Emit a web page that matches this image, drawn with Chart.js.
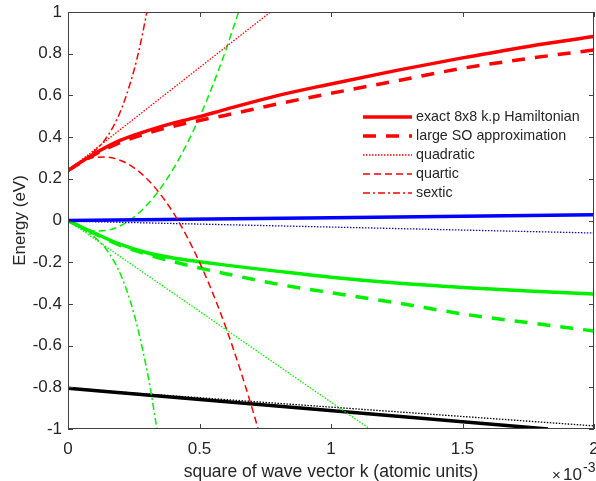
<!DOCTYPE html>
<html>
<head>
<meta charset="utf-8">
<title>Band energies vs k^2</title>
<script src="https://cdn.jsdelivr.net/npm/chart.js@4.4.1/dist/chart.umd.min.js"></script>
<style>
  html, body { margin: 0; padding: 0; background: #fff; }
</style>
</head>
<body>
<canvas id="bandChart" width="596" height="481"></canvas>
<script>
// k^2 in units of 1e-3 (atomic units)
const kGrid = [0, 0.1, 0.2, 0.3, 0.4, 0.5, 0.6, 0.8, 1.0, 1.25, 1.5, 1.75, 2.0];

// conduction band (red)
const cbExact   = [0.24, 0.32, 0.385, 0.43, 0.467, 0.498, 0.533, 0.60, 0.655, 0.72, 0.78, 0.835, 0.882];
const cbLargeSO = [0.24, 0.315, 0.375, 0.418, 0.452, 0.48, 0.505, 0.56, 0.61, 0.67, 0.73, 0.777, 0.818];
const cbQuadK   = [0, 0.77];
const cbQuad    = [0.24, 1.0];
const cbQuartK  = [0, 0.05, 0.1, 0.15, 0.2, 0.25, 0.3, 0.35, 0.4, 0.45, 0.5, 0.55, 0.6, 0.65, 0.7, 0.73];
const cbQuart   = [0.24, 0.28, 0.302, 0.304, 0.288, 0.254, 0.2, 0.128, 0.038, -0.072, -0.2, -0.347, -0.512, -0.697, -0.9, -1.03];
const cbSextK   = [0, 0.05, 0.1, 0.15, 0.2, 0.25, 0.275, 0.3];
const cbSext    = [0.24, 0.284, 0.332, 0.404, 0.525, 0.716, 0.845, 1.0];

// light hole (green)
const lhExact   = [0, -0.06, -0.115, -0.155, -0.18, -0.198, -0.214, -0.244, -0.272, -0.30, -0.321, -0.338, -0.353];
const lhLargeSO = [0, -0.062, -0.12, -0.162, -0.197, -0.228, -0.255, -0.306, -0.346, -0.395, -0.448, -0.49, -0.53];
const lhQuadK   = [0, 1.148];
const lhQuad    = [0, -1.0];
const lhQuartK  = [0, 0.05, 0.1, 0.15, 0.2, 0.25, 0.3, 0.35, 0.4, 0.45, 0.5, 0.55, 0.6, 0.65];
const lhQuart   = [0, -0.034, -0.05, -0.047, -0.025, 0.015, 0.074, 0.151, 0.247, 0.362, 0.495, 0.647, 0.817, 1.006];
const lhSextK   = [0, 0.05, 0.1, 0.15, 0.2, 0.25, 0.3, 0.32, 0.338];
const lhSext    = [0, -0.038, -0.079, -0.146, -0.259, -0.443, -0.717, -0.857, -1.0];

// heavy hole (blue)
const hhK       = [0, 2.0];
const hhExact   = [0, 0.027];
const hhQuad    = [-0.003, -0.06];

// split-off band (black)
const soExactK  = [0, 1.825];
const soExact   = [-0.805, -1.0];
const soQuadK   = [0, 2.0];
const soQuad    = [-0.805, -0.985];

const xTicks = [0, 0.5, 1, 1.5, 2];
const yTicks = [-1, -0.8, -0.6, -0.4, -0.2, 0, 0.2, 0.4, 0.6, 0.8, 1];

const legendLabels = ['exact 8x8 k.p Hamiltonian', 'large SO approximation', 'quadratic', 'quartic', 'sextic'];

const FONT = "Arial, 'Liberation Sans', Helvetica, sans-serif";
const AXIS_COLOR = '#404040';
const TEXT_COLOR = '#262626';

const RED = '#ff0000', GREEN = '#00f000', BLUE = '#0000ff', BLACK = '#000000';

const lineStyles = {
  exact:   { borderWidth: 3.5, borderDash: [] },
  largeSO: { borderWidth: 3.5, borderDash: [13, 10] },
  quad:    { borderWidth: 1.3, borderDash: [1.5, 1.5] },
  quart:   { borderWidth: 1.5, borderDash: [7, 4] },
  sext:    { borderWidth: 1.5, borderDash: [7, 3, 2, 3] }
};

function pts(xs, ys) {
  return xs.map((x, i) => ({ x: x, y: ys[i] }));
}

function series(label, xs, ys, color, style) {
  return {
    label: label,
    data: pts(xs, ys),
    borderColor: color,
    backgroundColor: color,
    borderWidth: lineStyles[style].borderWidth,
    borderDash: lineStyles[style].borderDash,
    pointRadius: 0,
    fill: false,
    cubicInterpolationMode: 'monotone',
    borderCapStyle: 'butt'
  };
}

const datasets = [
  series('cb exact', kGrid, cbExact, RED, 'exact'),
  series('cb large SO', kGrid, cbLargeSO, RED, 'largeSO'),
  series('cb quadratic', cbQuadK, cbQuad, RED, 'quad'),
  series('cb quartic', cbQuartK, cbQuart, RED, 'quart'),
  series('cb sextic', cbSextK, cbSext, RED, 'sext'),
  series('hh exact', hhK, hhExact, BLUE, 'exact'),
  series('hh quadratic', hhK, hhQuad, '#1010a0', 'quad'),
  series('lh exact', kGrid, lhExact, GREEN, 'exact'),
  series('lh large SO', kGrid, lhLargeSO, GREEN, 'largeSO'),
  series('lh quadratic', lhQuadK, lhQuad, GREEN, 'quad'),
  series('lh quartic', lhQuartK, lhQuart, GREEN, 'quart'),
  series('lh sextic', lhSextK, lhSext, GREEN, 'sext'),
  series('so exact', soExactK, soExact, BLACK, 'exact'),
  series('so quadratic', soQuadK, soQuad, BLACK, 'quad')
];

// box around the axes with inward tick marks on all four sides
const axesBox = {
  id: 'axesBox',
  afterDraw(chart) {
    const { ctx, chartArea: a, scales: { x, y } } = chart;
    const tl = 5;
    ctx.save();
    ctx.strokeStyle = AXIS_COLOR;
    ctx.lineWidth = 1;
    ctx.setLineDash([]);
    ctx.strokeRect(a.left + 0.5, a.top + 0.5, a.right - a.left - 1, a.bottom - a.top - 1);
    ctx.beginPath();
    xTicks.forEach(v => {
      const px = Math.round(x.getPixelForValue(v)) + 0.5;
      ctx.moveTo(px, a.bottom); ctx.lineTo(px, a.bottom - tl);
      ctx.moveTo(px, a.top); ctx.lineTo(px, a.top + tl);
    });
    yTicks.forEach(v => {
      const py = Math.round(y.getPixelForValue(v)) + 0.5;
      ctx.moveTo(a.left, py); ctx.lineTo(a.left + tl, py);
      ctx.moveTo(a.right, py); ctx.lineTo(a.right - tl, py);
    });
    ctx.stroke();

    // exponent of the x axis
    ctx.fillStyle = TEXT_COLOR;
    ctx.textBaseline = 'alphabetic';
    ctx.textAlign = 'left';
    ctx.font = '15px ' + FONT;
    ctx.fillText('\u00d7', 552, 480);
    ctx.font = '17px ' + FONT;
    ctx.fillText('10', 563, 480);
    ctx.font = '14px ' + FONT;
    ctx.fillText('-3', 583, 472);
    ctx.restore();
  }
};

// legend for the line styles, drawn inside the axes
const styleLegend = {
  id: 'styleLegend',
  afterDraw(chart) {
    const { ctx } = chart;
    const keys = ['exact', 'largeSO', 'quad', 'quart', 'sext'];
    ctx.save();
    ctx.font = '14.3px ' + FONT;
    ctx.textBaseline = 'middle';
    ctx.textAlign = 'left';
    legendLabels.forEach((label, i) => {
      const yc = 117 + i * 19;
      const st = lineStyles[keys[i]];
      ctx.strokeStyle = RED;
      ctx.lineWidth = st.borderWidth;
      ctx.setLineDash(st.borderDash);
      ctx.beginPath();
      ctx.moveTo(363, yc);
      ctx.lineTo(412, yc);
      ctx.stroke();
      ctx.fillStyle = TEXT_COLOR;
      ctx.fillText(label, 416, yc);
    });
    ctx.restore();
  }
};

function noEdgePadding(scale) {
  scale.paddingLeft = 0;
  scale.paddingRight = 0;
  scale.paddingTop = 0;
  scale.paddingBottom = 0;
}

new Chart(document.getElementById('bandChart'), {
  type: 'line',
  data: { datasets: datasets },
  options: {
    responsive: false,
    animation: false,
    events: [],
    layout: { autoPadding: false, padding: { top: 12, right: 2, left: 0, bottom: 0 } },
    plugins: { legend: { display: false }, tooltip: { enabled: false } },
    scales: {
      x: {
        type: 'linear',
        min: 0,
        max: 2,
        afterFit(scale) { scale.height = 52; noEdgePadding(scale); },
        afterBuildTicks(scale) { scale.ticks = xTicks.map(v => ({ value: v })); },
        grid: { display: false, drawTicks: false, tickLength: 0 },
        border: { display: false },
        ticks: {
          padding: 10,
          color: TEXT_COLOR,
          font: { family: FONT, size: 17 },
          maxRotation: 0,
          callback: v => String(+v.toFixed(1))
        },
        title: {
          display: true,
          text: 'square of wave vector k (atomic units)',
          color: TEXT_COLOR,
          font: { family: FONT, size: 17.5 },
          padding: { top: 0, bottom: -2 }
        }
      },
      y: {
        min: -1,
        max: 1,
        afterFit(scale) { scale.width = 68; noEdgePadding(scale); },
        afterBuildTicks(scale) { scale.ticks = yTicks.map(v => ({ value: v })); },
        grid: { display: false, drawTicks: false, tickLength: 0 },
        border: { display: false },
        ticks: {
          padding: 6,
          color: TEXT_COLOR,
          font: { family: FONT, size: 17 },
          callback: v => String(+v.toFixed(1))
        },
        title: {
          display: true,
          text: 'Energy (eV)',
          color: TEXT_COLOR,
          font: { family: FONT, size: 17 },
          padding: { top: 10, bottom: 0 }
        }
      }
    }
  },
  plugins: [axesBox, styleLegend]
});
</script>
</body>
</html>
